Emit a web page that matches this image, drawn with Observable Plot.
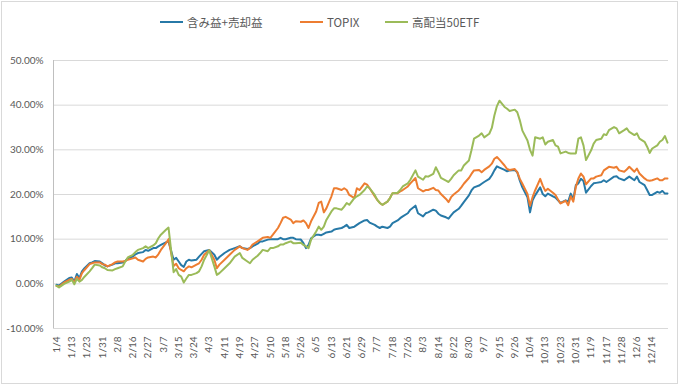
<!DOCTYPE html>
<html><head><meta charset="utf-8">
<script src="https://cdn.jsdelivr.net/npm/d3@7"></script>
<script src="https://cdn.jsdelivr.net/npm/@observablehq/plot@0.6"></script>
<style>
body{margin:0;background:#fff;}
#wrap{position:relative;width:680px;height:385px;overflow:hidden;background:#fff;}
#frame{position:absolute;left:1px;top:1px;width:675px;height:381px;border:1px solid #d9d9d9;pointer-events:none;}
#legend{height:45px;position:relative;font-family:"Noto Sans CJK JP",sans-serif;font-size:11.5px;color:#595959;}
.item{position:absolute;top:14px;height:16px;display:flex;align-items:center;white-space:nowrap;}
.sw{width:23px;height:2px;margin-right:4px;}
#chart svg{display:block;}
</style></head>
<body>
<div id="wrap">
  <div id="legend"></div>
  <div id="chart"></div>
  <div id="frame"></div>
</div>
<script>
const seriesNames = ["含み益+売却益", "TOPIX", "高配当50ETF"];
const seriesColors = ["#2779a7", "#ed7d31", "#9bbb59"];

const tickLabels = ["1/4","1/13","1/23","1/31","2/8","2/16","2/27","3/7","3/15","3/24","4/3","4/11","4/19","4/27","5/10","5/18","5/26","6/5","6/13","6/21","6/29","7/7","7/18","7/26","8/3","8/14","8/22","8/30","9/7","9/15","9/26","10/4","10/13","10/23","10/31","11/9","11/17","11/28","12/6","12/14"];
const tickIndex = [0,6,12,18,24,30,36,42,48,54,60,66,72,78,84,90,96,102,108,114,120,126,132,138,144,150,156,162,168,174,180,186,192,198,204,210,216,222,228,234];
const yTicks = [-10,0,10,20,30,40,50];

// trading-day index of each sample
const day = [0,1,3,5,6,7,8,9,10,11,13,14,15,17,18,19,20,22,23,24,26,27,28,30,31,32,34,35,36,38,39,40,41,43,44,
46,47,48,49,50,51,52,53,55,56,57,58,60,62,63,64,66,68,70,72,73,75,76,77,79,80,81,83,84,85,87,88,89,90,92,93,94,96,
97,98,99,100,102,103,104,105,106,108,109,110,112,113,114,115,117,118,119,121,122,123,125,126,127,128,130,131,132,134,135,136,138,139,141,142,144,
145,146,148,149,150,151,153,154,155,156,158,159,160,162,163,164,166,167,168,170,171,172,173,174,176,177,178,180,181,182,183,185,186,187,188,190,191,
192,193,195,196,197,198,200,201,202,203,204,205,206,207,208,210,211,212,214,215,216,217,219,220,221,223,224,225,227,228,229,231,232,233,234,236,237,238,239,240];

const gain = [-0.2,-0.4,0.5,1.3,1.4,0.5,2.2,1.3,2.8,3.5,4.6,4.8,5.1,5.0,4.6,4.1,3.9,4.3,4.6,4.6,4.8,5.1,5.7,6.1,6.6,6.9,7.1,7.6,7.4,8.0,8.0,8.4,8.7,9.3,9.5,
5.4,5.8,5.0,4.2,3.8,5.0,5.4,5.2,5.4,6.1,6.7,7.3,7.6,6.5,5.4,6.0,6.9,7.6,8.0,8.4,8.0,7.8,8.0,8.4,9.0,9.5,9.5,9.9,10.0,10.0,10.0,10.3,10.0,10.0,10.3,10.3,10.0,9.9,
9.1,8.0,8.7,10.2,11.0,11.0,10.9,11.2,11.5,11.7,12.1,12.3,12.5,12.8,13.2,12.5,12.8,13.2,13.6,14.2,14.3,13.7,13.2,12.8,12.5,12.8,12.5,12.8,13.6,14.2,14.7,15.1,15.8,16.6,17.5,15.8,15.1,
15.8,16.0,16.6,16.4,15.7,15.3,14.9,14.6,15.3,16.0,16.8,17.5,18.3,19.8,20.9,21.6,22.0,22.4,22.8,23.5,24.3,25.4,26.3,26.0,25.5,25.2,25.4,25.5,25.0,23.1,21.6,19.4,16.0,18.7,19.8,21.6,20.1,
19.6,20.2,19.6,19.3,18.7,18.1,18.7,18.4,20.2,18.9,22.1,22.5,23.5,23.0,20.4,21.9,22.5,22.6,22.8,23.2,22.8,23.2,24.0,24.1,23.6,23.2,23.6,24.0,23.2,24.0,22.8,22.1,21.0,19.9,19.9,20.6,20.4,20.8,20.2,20.2];

const topix = [-0.5,-0.6,0.3,0.9,1.1,0.3,1.6,0.9,2.4,3.1,4.4,4.6,4.8,4.8,4.4,4.3,3.9,4.4,4.8,5.0,5.0,5.1,5.4,5.7,5.9,5.4,5.0,5.6,5.9,6.1,5.9,6.6,7.6,9.1,10.0,
4.0,4.5,3.5,3.1,2.8,3.5,3.9,3.7,4.3,4.6,5.4,6.5,7.5,5.4,3.5,4.3,5.4,6.5,7.6,8.4,8.0,7.6,8.0,8.8,9.5,9.9,10.3,10.5,10.3,11.0,12.5,13.6,14.8,15.0,14.4,13.6,14.0,13.9,
14.2,13.6,12.5,14.0,16.2,18.1,18.4,16.0,16.9,19.6,21.4,21.4,21.0,21.4,21.0,19.9,19.2,21.4,21.0,22.5,22.2,21.4,19.6,18.8,18.1,17.7,18.4,19.2,20.3,20.3,20.7,21.0,21.8,22.5,23.7,21.4,20.7,
21.0,21.0,21.5,21.0,20.9,20.1,19.0,18.3,19.4,20.0,20.9,21.6,22.4,23.7,24.6,25.4,25.5,25.0,25.5,26.3,26.9,28.0,28.4,27.8,26.5,25.7,25.5,25.7,25.0,23.5,22.4,20.1,17.5,19.4,20.9,23.5,22.0,
20.8,21.3,20.4,19.9,18.9,18.0,18.6,17.6,19.6,18.4,21.7,23.6,24.7,24.0,22.3,23.6,23.6,24.0,24.3,25.4,25.8,26.2,26.0,26.2,25.4,25.1,25.6,26.2,25.1,25.8,24.7,23.6,23.2,23.1,23.2,23.6,23.2,23.2,23.6,23.6];

const highDiv = [-0.4,-0.8,0.0,0.5,0.9,-0.1,1.1,0.5,0.9,1.6,2.8,3.5,4.3,4.1,3.7,3.5,3.1,3.0,3.3,3.5,3.9,5.0,5.9,6.5,7.1,7.6,8.0,8.4,8.0,8.6,9.1,10.2,11.0,12.1,12.6,
2.6,3.3,2.0,1.6,0.3,1.2,2.0,2.0,2.4,2.8,3.9,5.4,7.5,3.9,2.0,2.4,3.5,4.6,6.1,6.9,5.8,5.0,4.6,5.4,6.3,6.9,7.6,7.3,8.0,8.0,8.4,8.8,8.8,9.1,9.5,9.1,9.1,9.2,
8.7,8.4,8.0,9.9,11.7,12.8,12.1,12.8,14.3,16.2,16.9,16.9,16.6,17.3,18.1,17.7,19.2,19.6,19.9,21.0,21.8,21.4,19.9,18.8,18.1,17.7,18.4,19.2,20.3,20.4,21.0,21.8,22.5,23.3,25.4,24.0,23.3,
24.1,24.0,24.6,26.1,25.0,23.7,23.1,22.8,23.5,24.3,25.4,25.4,26.5,27.6,29.9,32.5,33.2,33.7,32.8,33.6,34.9,37.7,39.8,41.0,39.6,39.2,38.7,39.0,38.4,36.6,34.3,32.1,30.0,28.7,32.8,32.5,32.8,
31.2,31.8,32.2,31.0,30.7,29.2,29.6,29.3,29.2,29.2,29.2,32.5,32.8,31.0,27.7,29.9,31.4,32.2,32.5,33.5,33.3,34.4,35.1,34.8,33.7,34.4,34.8,34.0,33.3,33.7,32.5,31.8,30.7,29.3,30.3,31.0,31.8,32.2,33.1,31.6];

// legend
const legendPos = [160, 300, 385];
const lg = document.getElementById("legend");
seriesNames.forEach((n, k) => {
  const it = document.createElement("div");
  it.className = "item";
  it.style.left = legendPos[k] + "px";
  it.innerHTML = `<span class="sw" style="background:${seriesColors[k]}"></span><span>${n}</span>`;
  lg.appendChild(it);
});

const rows = [];
[gain, topix, highDiv].forEach((arr, k) => {
  arr.forEach((v, j) => rows.push({i: day[j], v, s: seriesNames[k]}));
});
const labelOf = new Map(tickIndex.map((t, j) => [t, tickLabels[j]]));
const x0 = -1.18, x1 = 240.4;

const chart = Plot.plot({
  width: 680, height: 340,
  marginLeft: 53, marginRight: 12, marginTop: 15, marginBottom: 57,
  x: {domain: [x0, x1], label: null},
  y: {domain: [-10, 50], label: null},
  color: {domain: seriesNames, range: seriesColors},
  style: {fontFamily: "Lato, 'Open Sans', sans-serif", fontSize: "10px", color: "#595959", background: "transparent"},
  marks: [
    Plot.gridY(yTicks, {stroke: "#d9d9d9", strokeOpacity: 1}),
    Plot.ruleX([x0], {stroke: "#bfbfbf"}),
    Plot.axisY(yTicks, {label: null, tickSize: 0, tickPadding: 10, tickFormat: d => d.toFixed(2) + "%", fill: "#595959"}),
    Plot.axisX(tickIndex, {label: null, tickSize: 0, tickPadding: 8, tickRotate: -90, tickFormat: d => labelOf.get(d), fill: "#595959"}),
    Plot.lineY(rows, {x: "i", y: "v", z: "s", stroke: "s", strokeWidth: 2, strokeLinejoin: "round"})
  ]
});
document.getElementById("chart").appendChild(chart);
</script>
</body></html>
